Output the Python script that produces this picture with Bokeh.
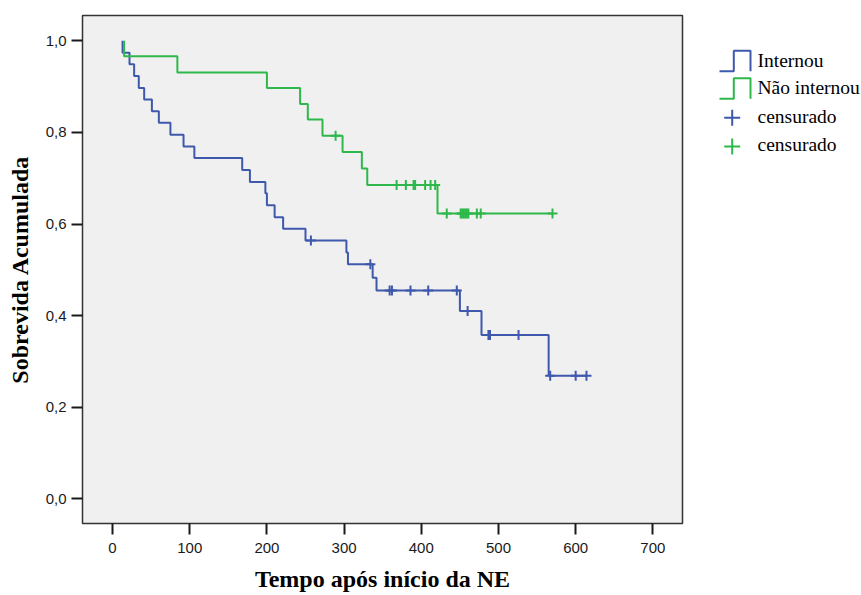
from bokeh.plotting import figure
from bokeh.layouts import row
from bokeh.models import Range1d, FixedTicker, CustomJSTickFormatter
from bokeh.core.properties import value
from bokeh.embed import file_html
from bokeh.resources import INLINE

# ---- data (Kaplan-Meier curves) ----
# Internou (blue): step times and cumulative survival after each step
blue_t = [13, 13, 22, 28, 34, 41, 51, 60, 75, 92, 106, 168, 178, 198, 200, 210, 221,
          250, 303, 305, 337, 342, 450, 478, 565, 614]
blue_s = [1.0, 0.974, 0.949, 0.923, 0.897, 0.872, 0.846, 0.821, 0.795, 0.769, 0.744,
          0.718, 0.692, 0.667, 0.641, 0.615, 0.590, 0.564, 0.538, 0.512, 0.483, 0.455,
          0.410, 0.358, 0.269, 0.269]
blue_cens_t = [257, 334, 359, 362, 386, 409, 446, 460, 487, 489, 526, 567, 600, 614]
blue_cens_s = [0.564, 0.512, 0.455, 0.455, 0.455, 0.455, 0.455, 0.410, 0.358, 0.358,
               0.358, 0.269, 0.269, 0.269]

# Não internou (green)
green_t = [15, 15, 84, 200, 243, 253, 272, 298, 323, 330, 421, 570]
green_s = [1.0, 0.966, 0.931, 0.897, 0.862, 0.828, 0.793, 0.757, 0.721, 0.685, 0.623, 0.623]
green_cens_t = [289, 368, 380, 390, 392, 405, 412, 418, 433, 451, 453, 455, 457, 459,
                461, 472, 477, 570]
green_cens_s = [0.793, 0.685, 0.685, 0.685, 0.685, 0.685, 0.685, 0.685, 0.623, 0.623,
                0.623, 0.623, 0.623, 0.623, 0.623, 0.623, 0.623, 0.623]

x_ticks = [0, 100, 200, 300, 400, 500, 600, 700]
y_ticks = [0.0, 0.2, 0.4, 0.6, 0.8, 1.0]

series_names = ["Internou", "Não internou"]
censor_label = "censurado"
x_title = "Tempo após início da NE"
y_title = "Sobrevida Acumulada"

BLUE = "#3E58AC"
GREEN = "#2EB84B"
SANS = "Liberation Sans"
SERIF = "Liberation Serif"

H = 594
TOP, BOTTOM = 15, 71

p = figure(width=698, height=H, output_backend="svg", toolbar_location=None,
           x_range=Range1d(-38.9, 738.4), y_range=Range1d(-0.0536, 1.0552),
           min_border_left=82, min_border_right=16, min_border_top=TOP,
           min_border_bottom=BOTTOM)
p.background_fill_color = "#F0F0F0"
p.border_fill_color = "white"
p.outline_line_color = "#333333"
p.outline_line_width = 1.5
p.xgrid.visible = False
p.ygrid.visible = False

for ax in (p.xaxis[0], p.yaxis[0]):
    ax.axis_line_color = None
    ax.major_tick_in = 0
    ax.major_tick_out = 11
    ax.major_tick_line_width = 2
    ax.major_tick_line_color = "#1a1a1a"
    ax.minor_tick_line_color = None
    ax.major_label_text_font = SANS
    ax.major_label_text_font_size = "15px"
    ax.major_label_text_color = "#1a1a1a"
    ax.axis_label_text_font = SERIF
    ax.axis_label_text_font_style = "bold"
    ax.axis_label_text_font_size = "24px"
    ax.axis_label_text_color = "black"

p.xaxis.ticker = FixedTicker(ticks=x_ticks)
p.yaxis.ticker = FixedTicker(ticks=y_ticks)
p.yaxis.formatter = CustomJSTickFormatter(code="return tick.toFixed(1).replace('.', ',');")
p.xaxis.major_label_standoff = 8
p.yaxis.major_label_standoff = 5
p.xaxis.axis_label = x_title
p.yaxis.axis_label = y_title
p.xaxis.axis_label_standoff = 10
p.yaxis.axis_label_standoff = 10

p.step(blue_t, blue_s, mode="after", line_color=BLUE, line_width=2)
p.step(green_t, green_s, mode="after", line_color=GREEN, line_width=2)
p.scatter(blue_cens_t, blue_cens_s, marker="cross", size=10, line_color=BLUE, line_width=2)
p.scatter(green_cens_t, green_cens_s, marker="cross", size=10, line_color=GREEN, line_width=2)

# ---- legend panel (separate axis-less figure; its data units are page pixels) ----
lg = figure(width=162, height=H, output_backend="svg", toolbar_location=None,
            x_range=Range1d(0, 162), y_range=Range1d(H - BOTTOM, TOP),
            x_axis_type=None, y_axis_type=None,
            min_border_left=0, min_border_right=0,
            min_border_top=TOP, min_border_bottom=BOTTOM)
lg.outline_line_color = None
lg.background_fill_color = "white"
lg.border_fill_color = "white"
lg.xgrid.visible = False
lg.ygrid.visible = False

icon_colors = [BLUE, GREEN]
icon_bottoms = [70.7, 98.3]
for col, yb in zip(icon_colors, icon_bottoms):
    yt = yb - 20.5
    lg.line([21, 35.3, 35.3, 52, 52], [yb, yb, yt, yt, yb],
            line_color=col, line_width=2)
lg.scatter([33.7, 33.7], [117.3, 146], marker="cross", size=16,
           line_color=[BLUE, GREEN], line_width=2)
lg.text([59] * 4, [59.7, 87.3, 115.7, 143.7],
        text=[series_names[0], series_names[1], censor_label, censor_label],
        text_font=value(SERIF), text_font_size="19.5px", text_color="black",
        text_baseline="alphabetic", text_align="left")

layout = row(p, lg)
open("out.html", "w").write(file_html(layout, INLINE))
